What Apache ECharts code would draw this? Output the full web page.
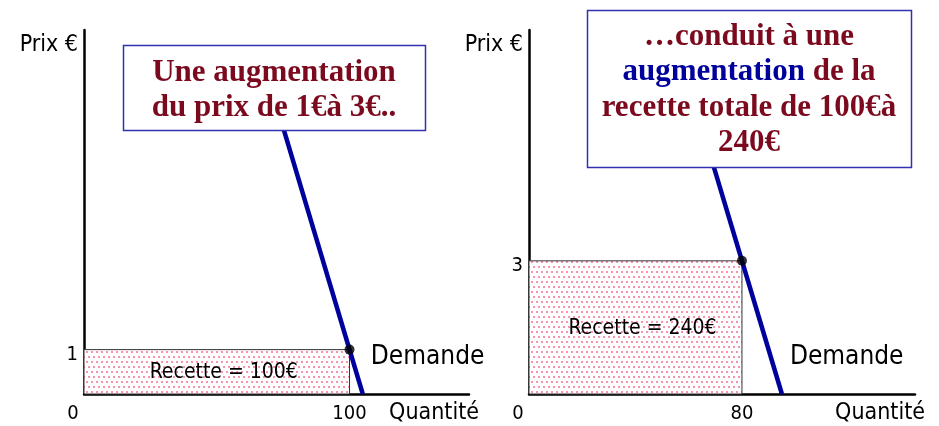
<!DOCTYPE html>
<html>
<head>
<meta charset="utf-8">
<script src="https://cdn.jsdelivr.net/npm/echarts@6/dist/echarts.min.js"></script>
<style>
  html, body { margin: 0; padding: 0; background: #fff; }
  #chart { width: 939px; height: 426px; }
</style>
</head>
<body>
<div id="chart"></div>
<script>
// données des deux graphiques
var prixAvant = 1, quantiteAvant = 100;   // recette 100€
var prixApres = 3, quantiteApres = 80;    // recette 240€
var demandeGauche = [[105, 0], [72.5, 6.5]];
var demandeDroite = [[95, 0], [67.5, 5.5]];
var ticksXGauche = [0, 100];
var ticksXDroite = [0, 80];
var ticksYGauche = [1];
var ticksYDroite = [3];
var recettes = ['Recette = 100€', 'Recette = 240€'];

var narrow = "'Liberation Sans Narrow', 'DejaVu Sans Condensed', sans-serif";
var serif = "'Liberation Serif', 'DejaVu Serif', serif";
var rouge = '#7b0a1e';
var bleu = '#00009c';

// motif à points roses
var motif = document.createElement('canvas');
motif.width = 10; motif.height = 10;
var c = motif.getContext('2d');
c.fillStyle = '#fff';
c.fillRect(0, 0, 10, 10);
c.fillStyle = '#f594ac';
c.fillRect(1, 1, 2, 2);
c.fillRect(6, 1, 2, 2);
c.fillRect(3, 6, 2, 2);
c.fillRect(8, 6, 2, 2);

var chart = echarts.init(document.getElementById('chart'));

function axeX(idx, ticks) {
  return {
    type: 'value', gridIndex: idx, min: 0, max: 145,
    axisLine: { lineStyle: { color: '#000', width: 2.5 } },
    axisTick: { show: false },
    splitLine: { show: false },
    axisLabel: {
      customValues: ticks, margin: 10, color: '#000', fontSize: 20, fontFamily: narrow,
      formatter: function (v) { return v === 0 ? '{z|0}' : String(v); },
      rich: { z: { padding: [0, 22, 0, 0], fontSize: 20, fontFamily: narrow, color: '#000' } }
    },
    name: 'Quantité', nameLocation: 'end', nameGap: 10,
    nameTextStyle: { color: '#000', fontSize: 23, fontFamily: narrow, align: 'right', verticalAlign: 'top', padding: [8, 0, 0, 0] }
  };
}
function axeY(idx, ticks) {
  return {
    type: 'value', gridIndex: idx, min: 0, max: 8.2,
    axisLine: { lineStyle: { color: '#000', width: 2.5 } },
    axisTick: { show: false },
    splitLine: { show: false },
    axisLabel: {
      customValues: ticks, margin: 6, color: '#000', fontSize: 20, fontFamily: narrow,
      formatter: function (v) { return '{y|' + v + '}'; },
      rich: { y: { padding: [10, 0, 0, 0], fontSize: 20, fontFamily: narrow, color: '#000' } }
    },
    name: 'Prix €', nameLocation: 'end', nameGap: -15,
    nameTextStyle: { color: '#000', fontSize: 23, fontFamily: narrow, align: 'right', verticalAlign: 'middle', padding: [0, 6, 0, 0] }
  };
}

function rectRecette(idx, q, p, txt) {
  return {
    type: 'custom', xAxisIndex: idx, yAxisIndex: idx, z: 1,
    data: [[q, p]],
    renderItem: function (params, api) {
      var a = api.coord([0, api.value(1)]);
      var b = api.coord([api.value(0), 0]);
      return {
        type: 'group',
        children: [{
          type: 'rect',
          shape: { x: a[0], y: a[1], width: b[0] - a[0], height: b[1] - a[1] },
          style: { fill: { image: motif, repeat: 'repeat' }, stroke: '#333', lineWidth: 1 }
        }, {
          type: 'text',
          style: {
            text: txt, x: (a[0] + b[0]) / 2 + 7, y: (a[1] + b[1]) / 2 + 1,
            align: 'center', verticalAlign: 'middle',
            fill: '#000', font: '21px ' + narrow
          }
        }]
      };
    }
  };
}

function demande(idx, pts) {
  var d = pts.map(function (p, i) {
    return i === 0 ? { value: p, label: { show: true } } : { value: p };
  });
  return {
    type: 'line', xAxisIndex: idx, yAxisIndex: idx, z: 3,
    data: d, symbol: 'circle', symbolSize: 0.01, showSymbol: true, silent: true,
    itemStyle: { color: bleu },
    lineStyle: { color: bleu, width: 4.5 },
    label: {
      show: false, position: 'right', distance: 3, offset: [5, -37],
      formatter: 'Demande', color: '#000', fontSize: 26, fontFamily: narrow
    }
  };
}

function point(idx, q, p) {
  return {
    type: 'scatter', xAxisIndex: idx, yAxisIndex: idx, z: 4,
    data: [[q, p]], symbolSize: 10, itemStyle: { color: '#000' }
  };
}

chart.setOption({
  animation: false,
  grid: [
    { left: 84, top: 30, width: 385, height: 364 },
    { left: 529, top: 30, width: 386, height: 364 }
  ],
  xAxis: [axeX(0, ticksXGauche), axeX(1, ticksXDroite)],
  yAxis: [axeY(0, ticksYGauche), axeY(1, ticksYDroite)],
  series: [
    rectRecette(0, quantiteAvant, prixAvant, recettes[0]),
    rectRecette(1, quantiteApres, prixApres, recettes[1]),
    demande(0, demandeGauche),
    demande(1, demandeDroite),
    point(0, quantiteAvant, prixAvant),
    point(1, quantiteApres, prixApres)
  ],
  graphic: [
    {
      type: 'rect', z: 100, zlevel: 1, shape: { x: 123.5, y: 45.5, width: 302, height: 85 },
      style: { fill: '#fff', stroke: '#3030b0', lineWidth: 1.5 }
    },
    {
      type: 'text', z: 101, zlevel: 1,
      style: {
        text: 'Une augmentation\ndu prix de 1€à 3€..', x: 274, y: 90,
        align: 'center', verticalAlign: 'middle', lineHeight: 35,
        fill: rouge, font: 'bold 31px ' + serif
      }
    },
    {
      type: 'rect', z: 100, zlevel: 1, shape: { x: 587.5, y: 10.5, width: 324, height: 157 },
      style: { fill: '#fff', stroke: '#3030b0', lineWidth: 1.5 }
    },
    {
      type: 'text', z: 101, zlevel: 1,
      style: {
        text: '…conduit à une\n{b|augmentation} de la\nrecette totale de 100€à\n240€',
        x: 749, y: 90, align: 'center', verticalAlign: 'middle', lineHeight: 35.5,
        fill: rouge, font: 'bold 31px ' + serif,
        rich: { b: { fill: bleu, font: 'bold 31px ' + serif, lineHeight: 35.5 } }
      }
    }
  ]
});
</script>
</body>
</html>
